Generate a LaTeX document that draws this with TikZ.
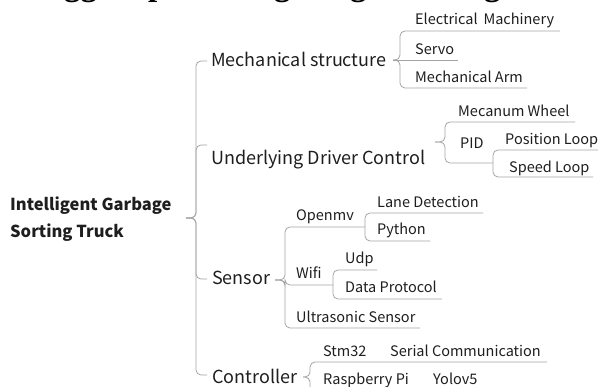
\documentclass[tikz,border=0pt]{standalone}
\usepackage{fontspec}
\setmainfont{Noto Sans CJK SC}
\newfontfamily\capfont{Liberation Serif}
\definecolor{lg}{HTML}{A3A3A3}
\definecolor{tx}{HTML}{1E1E1E}
\tikzset{
  conn/.style={draw=lg, line width=0.8pt, rounded corners=5pt},
  lone/.style={font=\fontsize{18}{20}\selectfont, text=tx, inner sep=0pt, anchor=base west},
  ltwo/.style={font=\fontsize{14.5}{16}\selectfont, text=tx, inner sep=0pt, anchor=base west},
  rootst/.style={font=\bfseries\fontsize{16.5}{27}\selectfont, text=tx, inner sep=0pt, anchor=west, align=left},
  capst/.style={font=\capfont\bfseries\fontsize{33}{35}\selectfont, text=black, inner sep=0pt, anchor=base west}
}
\begin{document}
\begin{tikzpicture}[x=1pt,y=-1pt]
\useasboundingbox (0,0) rectangle (598,387);
\clip (0,0) rectangle (598,387);

% cut-off caption fragments
\node[capst] (c1) at (64,-4) {gg};
\node[capst] (c2) at (148,-4) {p};
\node[capst] (c3) at (274,-4) {g};
\node[capst] (c4) at (350,-4) {g};
\node[capst] (c5) at (484,-4) {g};

% root
\node[rootst] (root) at (10,219) {Intelligent Garbage\\Sorting Truck};

% level one
\node[lone] (ms) at (211,67) {Mechanical structure};
\node[lone] (ud) at (211,165) {Underlying Driver Control};
\node[lone] (se) at (212,285) {Sensor};
\node[lone] (co) at (212,384) {Controller};

% mechanical structure children
\node[ltwo] (em) at (415,25) {Electrical\hspace{0.4em}Machinery};
\node[ltwo] (sv) at (415,55) {Servo};
\node[ltwo] (ma) at (415,83) {Mechanical Arm};

% underlying children
\node[ltwo] (mw) at (458,117) {Mecanum Wheel};
\node[ltwo] (pid) at (460,149) {PID};
\node[ltwo] (pl) at (505,145) {Position Loop};
\node[ltwo] (sl) at (509,173) {Speed Loop};

% sensor children
\node[ltwo] (om) at (296,221) {Openmv};
\node[ltwo] (ld) at (377,208) {Lane Detection};
\node[ltwo] (py) at (377,235) {Python};
\node[ltwo] (wf) at (296,279) {Wifi};
\node[ltwo] (udp) at (345,264) {Udp};
\node[ltwo] (dp) at (345,293) {Data Protocol};
\node[ltwo] (us) at (296,323) {Ultrasonic Sensor};

% controller children
\node[ltwo] (st) at (323,357) {Stm32};
\node[ltwo] (sc) at (390,357) {Serial Communication};
\node[ltwo] (rp) at (323,385) {Raspberry Pi};
\node[ltwo] (yo) at (433,385) {Yolov5};

% connector points
\coordinate (root-o) at (186,218);
\coordinate (ms-i) at (207,61);
\coordinate (ud-i) at (207,145);
\coordinate (se-i) at (207,279);
\coordinate (co-i) at (207,375);

\coordinate (ms-o) at (393,60);
\coordinate (em-e) at (560,31);
\coordinate (sv-e) at (458,60);
\coordinate (ma-e) at (527,88);

\coordinate (ud-o) at (435,142);
\coordinate (mw-e) at (575,122);
\coordinate (pid-o) at (493,163);
\coordinate (pl-e) at (600,150);
\coordinate (sl-e) at (593,177);

\coordinate (se-o) at (275,280);
\coordinate (om-o) at (365,227);
\coordinate (ld-e) at (483,213);
\coordinate (py-e) at (430,241);
\coordinate (wf-o) at (333,285);
\coordinate (udp-e) at (377,270);
\coordinate (dp-e) at (442,299);
\coordinate (us-e) at (420,328);

\coordinate (co-o) at (303,377);
\coordinate (sc-e) at (547,362);
\coordinate (yo-e) at (500,392);

% root bracket
\draw[conn] (root-o) -- (root-o -| 196,0) |- (ms-i);
\draw[conn] (root-o) -- (root-o -| 196,0) |- (ud-i);
\draw[conn] (root-o) -- (root-o -| 196,0) |- (se-i);
\draw[conn] (root-o) -- (root-o -| 196,0) |- (co-i);

% mechanical structure bracket
\draw[conn] (ms-o) -- (ms-o -| 400,0) |- (em-e);
\draw[conn] (ms-o) -- (sv-e);
\draw[conn] (ms-o) -- (ms-o -| 400,0) |- (ma-e);

% underlying bracket
\draw[conn] (ud-o) -- (ud-o -| 445,0) |- (mw-e);
\draw[conn] (ud-o) -- (ud-o -| 445,0) |- (pid-o);
\draw[conn] (pid-o) |- (pl-e);
\draw[conn] (pid-o) |- (sl-e);

% sensor bracket
\draw[conn] (se-o) -- (se-o -| 285,0) |- (om-o);
\draw[conn] (se-o) -- (se-o -| 285,0) |- (wf-o);
\draw[conn] (se-o) -- (se-o -| 285,0) |- (us-e);
\draw[conn] (om-o) |- (ld-e);
\draw[conn] (om-o) |- (py-e);
\draw[conn] (wf-o) |- (udp-e);
\draw[conn] (wf-o) |- (dp-e);

% controller bracket
\draw[conn] (co-o) -- (co-o -| 310,0) |- (sc-e);
\draw[conn] (co-o) -- (co-o -| 310,0) |- (yo-e);
\end{tikzpicture}
\end{document}
